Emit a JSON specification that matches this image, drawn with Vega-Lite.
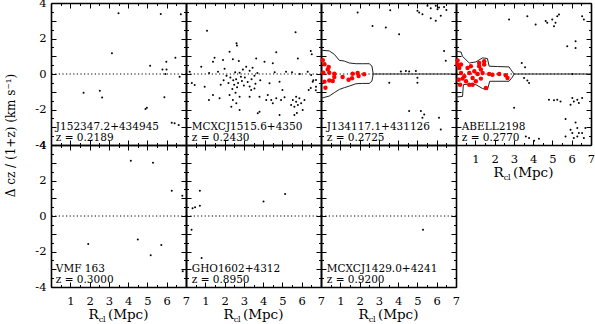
{
"$schema": "https://vega.github.io/schema/vega-lite/v6.json",
"background": "white",
"padding": {"left": 4, "top": -3, "right": 0, "bottom": 0},
"bounds": "flush",
"spacing": 0,
"columns": 4,
"datasets": {
"lab": [
{"p":1,"name":"J152347.2+434945","zl":"z = 0.2189"},
{"p":2,"name":"MCXCJ1515.6+4350","zl":"z = 0.2430"},
{"p":3,"name":"J134117.1+431126","zl":"z = 0.2725"},
{"p":4,"name":"ABELL2198","zl":"z = 0.2770"},
{"p":5,"name":"VMF 163","zl":"z = 0.3000"},
{"p":6,"name":"GHO1602+4312","zl":"z = 0.8950"},
{"p":7,"name":"MCXCJ1429.0+4241","zl":"z = 0.9200"}],
"pts": [
{"p":1,"r":3.5,"v":3.42},{"p":1,"r":5.69,"v":3.38},{"p":1,"r":6.73,"v":3.36},{"p":1,"r":3.16,"v":1.17},{"p":1,"r":5.14,"v":0.47},{"p":1,"r":6.45,"v":0.92},{"p":1,"r":5.98,"v":0.69},{"p":1,"r":5.78,"v":0.26},{"p":1,"r":5.99,"v":0.26},{"p":1,"r":5.93,"v":0.0},{"p":1,"r":6.67,"v":-0.15},{"p":1,"r":1.69,"v":-1.05},{"p":1,"r":2.53,"v":-0.94},{"p":1,"r":2.65,"v":-1.33},{"p":1,"r":5.88,"v":-1.31},{"p":1,"r":4.97,"v":-1.9},{"p":1,"r":4.9,"v":-1.97},{"p":1,"r":6.26,"v":-2.74},{"p":1,"r":6.41,"v":-2.78},{"p":1,"r":6.62,"v":-2.87},
{"p":2,"r":1.09,"v":2.44},{"p":2,"r":5.68,"v":2.35},{"p":2,"r":2.62,"v":1.73},{"p":2,"r":2.64,"v":1.6},{"p":2,"r":2.26,"v":1.26},{"p":2,"r":4.68,"v":1.22},{"p":2,"r":6.47,"v":1.3},{"p":2,"r":1.48,"v":0.92},{"p":2,"r":1.92,"v":0.79},{"p":2,"r":2.43,"v":0.83},{"p":2,"r":2.74,"v":0.73},{"p":2,"r":1.4,"v":0.69},{"p":2,"r":3.64,"v":0.88},{"p":2,"r":4.07,"v":0.69},{"p":2,"r":5.8,"v":0.88},{"p":2,"r":3.12,"v":0.41},{"p":2,"r":2.95,"v":0.26},{"p":2,"r":3.3,"v":0.19},{"p":2,"r":2.78,"v":0.07},{"p":2,"r":0.79,"v":0.41},{"p":2,"r":0.19,"v":0.13},{"p":2,"r":1.66,"v":0.13},
{"p":2,"r":2.3,"v":-0.2},{"p":2,"r":2.45,"v":-0.35},{"p":2,"r":2.6,"v":-0.3},{"p":2,"r":2.7,"v":-0.5},{"p":2,"r":2.5,"v":-0.6},{"p":2,"r":2.9,"v":-0.4},{"p":2,"r":3.05,"v":-0.2},{"p":2,"r":3.2,"v":-0.45},{"p":2,"r":3.4,"v":-0.3},{"p":2,"r":3.55,"v":-0.1},{"p":2,"r":3.7,"v":0.05},{"p":2,"r":2.2,"v":-0.5},{"p":2,"r":2.1,"v":-0.1},{"p":2,"r":1.95,"v":-0.35},{"p":2,"r":2.85,"v":-0.15},{"p":2,"r":3.0,"v":-0.65},{"p":2,"r":3.3,"v":-0.7},{"p":2,"r":2.4,"v":-0.85},{"p":2,"r":2.65,"v":-0.75},{"p":2,"r":3.6,"v":-0.55},{"p":2,"r":3.85,"v":-0.35},{"p":2,"r":2.0,"v":0.3},{"p":2,"r":2.55,"v":0.1},{"p":2,"r":3.45,"v":0.35},{"p":2,"r":1.8,"v":-0.6},
{"p":2,"r":4.33,"v":-0.52},{"p":2,"r":4.85,"v":-0.43},{"p":2,"r":5.19,"v":0.13},{"p":2,"r":5.5,"v":0.1},{"p":2,"r":5.9,"v":0.0},{"p":2,"r":6.31,"v":0.13},{"p":2,"r":6.74,"v":-0.34},{"p":2,"r":6.57,"v":-0.43},{"p":2,"r":6.36,"v":-0.9},{"p":2,"r":0.45,"v":-0.62},{"p":2,"r":0.97,"v":-0.72},{"p":2,"r":1.4,"v":-1.18},{"p":2,"r":1.74,"v":-1.37},{"p":2,"r":1.19,"v":-1.46},{"p":2,"r":2.26,"v":-1.18},{"p":2,"r":2.43,"v":-1.46},{"p":2,"r":2.35,"v":-1.84},{"p":2,"r":2.61,"v":-1.65},{"p":2,"r":2.78,"v":-1.28},{"p":2,"r":2.57,"v":-1.05},{"p":2,"r":3.3,"v":-1.28},{"p":2,"r":3.38,"v":-0.9},{"p":2,"r":3.55,"v":-0.81},{"p":2,"r":3.81,"v":-1.28},{"p":2,"r":4.16,"v":-1.46},{"p":2,"r":4.24,"v":-1.18},{"p":2,"r":4.42,"v":-1.46},{"p":2,"r":4.5,"v":-1.65},{"p":2,"r":4.68,"v":-1.37},{"p":2,"r":4.93,"v":-1.46},{"p":2,"r":5.11,"v":-1.31},{"p":2,"r":5.54,"v":-1.46},{"p":2,"r":5.71,"v":-1.56},{"p":2,"r":5.8,"v":-1.75},{"p":2,"r":5.62,"v":-1.84},{"p":2,"r":5.88,"v":-1.37},{"p":2,"r":5.97,"v":-1.65},{"p":2,"r":5.45,"v":-1.75},{"p":2,"r":5.71,"v":-1.28},{"p":2,"r":6.05,"v":-2.03},{"p":2,"r":6.14,"v":-1.46},{"p":2,"r":3.81,"v":-2.12},{"p":2,"r":4.85,"v":-2.31},{"p":2,"r":5.62,"v":-2.31},{"p":2,"r":5.75,"v":-2.2},{"p":2,"r":6.74,"v":-0.72},{"p":2,"r":6.49,"v":-0.06},{"p":2,"r":2.78,"v":-2.03},{"p":2,"r":3.72,"v":-2.21},{"p":2,"r":6.52,"v":1.11},{"p":2,"r":6.47,"v":-0.79},{"p":2,"r":6.73,"v":-0.92},{"p":2,"r":6.6,"v":-0.35},{"p":2,"r":4.5,"v":0.6},{"p":2,"r":0.3,"v":-0.5},{"p":2,"r":1.2,"v":0.05},{"p":2,"r":4.6,"v":0.1},{"p":2,"r":5.0,"v":-0.9},
{"p":3,"r":1.9,"v":3.46},{"p":3,"r":5.09,"v":3.47},{"p":3,"r":5.26,"v":3.37},{"p":3,"r":5.0,"v":3.56},{"p":3,"r":5.52,"v":3.84},{"p":3,"r":5.69,"v":3.71},{"p":3,"r":5.95,"v":3.84},{"p":3,"r":6.04,"v":3.65},{"p":3,"r":6.12,"v":3.75},{"p":3,"r":6.38,"v":3.78},{"p":3,"r":6.5,"v":3.6},{"p":3,"r":6.21,"v":3.28},{"p":3,"r":5.69,"v":3.14},{"p":3,"r":5.95,"v":3.0},{"p":3,"r":2.67,"v":2.71},{"p":3,"r":3.36,"v":2.62},{"p":3,"r":3.59,"v":3.59},{"p":3,"r":4.05,"v":2.24},{"p":3,"r":6.38,"v":1.3},{"p":3,"r":6.47,"v":0.74},{"p":3,"r":4.4,"v":0.17},{"p":3,"r":4.14,"v":0.14},{"p":3,"r":4.57,"v":0.14},{"p":3,"r":4.92,"v":0.17},{"p":3,"r":5.0,"v":-0.21},{"p":3,"r":5.0,"v":-0.49},{"p":3,"r":3.54,"v":-0.49},{"p":3,"r":4.57,"v":-2.09},{"p":3,"r":5.18,"v":-2.09},{"p":3,"r":5.35,"v":-2.28},{"p":3,"r":5.26,"v":-2.47},{"p":3,"r":6.12,"v":-2.47},{"p":3,"r":6.21,"v":-3.12},
{"p":4,"r":2.75,"v":3.07},{"p":4,"r":3.7,"v":3.26},{"p":4,"r":4.13,"v":2.79},{"p":4,"r":4.65,"v":2.98},{"p":4,"r":4.73,"v":2.89},{"p":4,"r":4.99,"v":3.07},{"p":4,"r":5.08,"v":2.69},{"p":4,"r":5.16,"v":2.89},{"p":4,"r":5.25,"v":3.26},{"p":4,"r":5.34,"v":3.35},{"p":4,"r":6.54,"v":3.26},{"p":4,"r":6.63,"v":3.07},{"p":4,"r":5.77,"v":1.56},{"p":4,"r":6.2,"v":1.47},{"p":4,"r":6.2,"v":1.85},{"p":4,"r":3.41,"v":0.62},{"p":4,"r":3.58,"v":0.38},{"p":4,"r":3.53,"v":-0.22},{"p":4,"r":3.7,"v":-0.37},{"p":4,"r":3.79,"v":-0.5},{"p":4,"r":6.03,"v":0.0},{"p":4,"r":4.82,"v":-1.45},{"p":4,"r":5.08,"v":-1.48},{"p":4,"r":5.25,"v":-1.45},{"p":4,"r":5.42,"v":-1.55},{"p":4,"r":6.03,"v":-1.35},{"p":4,"r":6.11,"v":-1.55},{"p":4,"r":6.29,"v":-1.45},{"p":4,"r":6.37,"v":-1.64},{"p":4,"r":5.94,"v":-1.73},{"p":4,"r":6.54,"v":-1.35},{"p":4,"r":3.01,"v":-1.9},{"p":4,"r":5.68,"v":-2.54},{"p":4,"r":6.2,"v":-2.73},{"p":4,"r":6.29,"v":-3.04},{"p":4,"r":6.37,"v":-3.33},{"p":4,"r":6.03,"v":-3.33},{"p":4,"r":5.94,"v":-3.14},{"p":4,"r":6.11,"v":-3.61},{"p":4,"r":6.29,"v":-3.52},{"p":4,"r":6.54,"v":-3.33},{"p":4,"r":6.71,"v":-3.04},{"p":4,"r":6.63,"v":-3.61},{"p":4,"r":5.68,"v":-3.52},{"p":4,"r":3.62,"v":-3.52},{"p":4,"r":3.79,"v":-3.61},{"p":4,"r":4.05,"v":-3.76},{"p":4,"r":4.3,"v":-3.65},
{"p":5,"r":4.14,"v":3.11},{"p":5,"r":5.29,"v":3.0},{"p":5,"r":6.26,"v":1.42},{"p":5,"r":6.81,"v":1.14},{"p":5,"r":1.93,"v":-1.58},{"p":5,"r":4.5,"v":-1.33},{"p":5,"r":5.72,"v":-1.63},{"p":5,"r":5.17,"v":-2.21},{"p":5,"r":6.83,"v":-3.11},
{"p":6,"r":0.72,"v":1.42},{"p":6,"r":5.14,"v":1.24},{"p":6,"r":4.02,"v":0.82},{"p":6,"r":0.34,"v":0.44},{"p":6,"r":0.47,"v":0.5},{"p":6,"r":0.72,"v":0.58},{"p":6,"r":0.29,"v":-0.78},{"p":6,"r":0.81,"v":-2.37},
{"p":7,"r":5.29,"v":-0.77}],
"mem": [
{"p":3,"r":0.09,"v":0.77},{"p":3,"r":0.18,"v":0.55},{"p":3,"r":0.12,"v":0.07},{"p":3,"r":0.35,"v":0.26},{"p":3,"r":0.43,"v":-0.36},{"p":3,"r":0.18,"v":-0.43},{"p":3,"r":0.23,"v":-0.77},{"p":3,"r":0.69,"v":0.02},{"p":3,"r":0.69,"v":-0.17},{"p":3,"r":0.61,"v":-0.4},{"p":3,"r":1.12,"v":-0.17},{"p":3,"r":1.64,"v":0.02},{"p":3,"r":1.9,"v":0.06},{"p":3,"r":1.95,"v":-0.11},{"p":3,"r":1.61,"v":-0.24},{"p":3,"r":1.43,"v":-0.32},{"p":3,"r":2.24,"v":-0.02},{"p":3,"r":0.43,"v":0.07},{"p":3,"r":0.4,"v":0.4},
{"p":4,"r":0.08,"v":0.76},{"p":4,"r":0.08,"v":0.53},{"p":4,"r":0.17,"v":0.34},{"p":4,"r":0.26,"v":0.06},{"p":4,"r":0.14,"v":-0.32},{"p":4,"r":0.21,"v":-0.6},{"p":4,"r":0.34,"v":-0.26},{"p":4,"r":0.43,"v":-0.13},{"p":4,"r":0.52,"v":-0.41},{"p":4,"r":0.69,"v":0.06},{"p":4,"r":0.6,"v":0.34},{"p":4,"r":0.77,"v":0.44},{"p":4,"r":0.86,"v":-0.22},{"p":4,"r":0.86,"v":-0.6},{"p":4,"r":0.95,"v":0.15},{"p":4,"r":1.03,"v":-0.41},{"p":4,"r":1.12,"v":0.0},{"p":4,"r":1.2,"v":0.44},{"p":4,"r":1.2,"v":0.62},{"p":4,"r":1.29,"v":0.25},{"p":4,"r":1.29,"v":-0.26},{"p":4,"r":1.38,"v":0.06},{"p":4,"r":1.46,"v":0.53},{"p":4,"r":1.46,"v":0.72},{"p":4,"r":1.55,"v":-0.79},{"p":4,"r":1.72,"v":0.0},{"p":4,"r":1.89,"v":-0.04},{"p":4,"r":2.24,"v":0.0},{"p":4,"r":2.58,"v":-0.07},{"p":4,"r":2.67,"v":-0.22},{"p":4,"r":0.26,"v":0.53},{"p":4,"r":0.69,"v":-0.6}],
"caus": [
{"p":3,"s":"u","r":0,"v":1.34},{"p":3,"s":"u","r":0.43,"v":1.3},{"p":3,"s":"u","r":0.69,"v":1.11},{"p":3,"s":"u","r":0.95,"v":0.77},{"p":3,"s":"u","r":1.21,"v":0.73},{"p":3,"s":"u","r":1.47,"v":0.62},{"p":3,"s":"u","r":1.81,"v":0.58},{"p":3,"s":"u","r":2.16,"v":0.58},{"p":3,"s":"u","r":2.5,"v":0.58},{"p":3,"s":"u","r":2.64,"v":0.45},{"p":3,"s":"u","r":2.71,"v":0},{"p":3,"s":"u","r":7,"v":0},
{"p":3,"s":"l","r":0,"v":-1.37},{"p":3,"s":"l","r":0.43,"v":-1.24},{"p":3,"s":"l","r":0.69,"v":-1.05},{"p":3,"s":"l","r":0.95,"v":-0.87},{"p":3,"s":"l","r":1.21,"v":-0.77},{"p":3,"s":"l","r":1.47,"v":-0.68},{"p":3,"s":"l","r":1.81,"v":-0.55},{"p":3,"s":"l","r":2.16,"v":-0.53},{"p":3,"s":"l","r":2.5,"v":-0.53},{"p":3,"s":"l","r":2.64,"v":-0.4},{"p":3,"s":"l","r":2.71,"v":0},
{"p":4,"s":"u","r":0,"v":1.28},{"p":4,"s":"u","r":0.26,"v":1.24},{"p":4,"s":"u","r":0.34,"v":0.99},{"p":4,"s":"u","r":0.69,"v":0.62},{"p":4,"s":"u","r":1.03,"v":0.68},{"p":4,"s":"u","r":1.38,"v":0.91},{"p":4,"s":"u","r":1.63,"v":0.87},{"p":4,"s":"u","r":1.72,"v":0.44},{"p":4,"s":"u","r":2.15,"v":0.42},{"p":4,"s":"u","r":2.75,"v":0.4},{"p":4,"s":"u","r":2.84,"v":0.25},{"p":4,"s":"u","r":3.01,"v":0},{"p":4,"s":"u","r":7,"v":0},
{"p":4,"s":"l","r":0,"v":-1.3},{"p":4,"s":"l","r":0.34,"v":-1.26},{"p":4,"s":"l","r":0.38,"v":-0.6},{"p":4,"s":"l","r":0.69,"v":-0.56},{"p":4,"s":"l","r":1.03,"v":-0.6},{"p":4,"s":"l","r":1.38,"v":-0.82},{"p":4,"s":"l","r":1.63,"v":-0.88},{"p":4,"s":"l","r":1.75,"v":-0.41},{"p":4,"s":"l","r":2.75,"v":-0.41},{"p":4,"s":"l","r":2.92,"v":-0.18},{"p":4,"s":"l","r":3.01,"v":0}]
},
"concat": [
{"width":135,"height":142,"resolve":{"axis":{"x":"independent","y":"independent"}},"layer":[
 {"data":{"values":[{}]},"mark":{"type":"rule","strokeDash":[1.2,2.4],"color":"black","strokeWidth":1},"encoding":{"y":{"datum":0,"type":"quantitative","axis":null}}},
 {"data":{"name":"pts"},"transform":[{"filter":"datum.p == 1"}],"mark":{"type":"circle","size":4,"color":"black","opacity":1},
  "encoding":{"x":{"field":"r","type":"quantitative","scale":{"domain":[0,7],"nice":false,"zero":false},"axis":{"orient":"bottom","labels":false,"title":null}},
   "y":{"field":"v","type":"quantitative","scale":{"domain":[-4,4],"nice":false,"zero":false},"axis":{"orient":"left","labels":true,"title":"Δ cz / (1+z) (km s⁻¹)","titleX":-41,"titleY":132,"titleAngle":-90,"titleAlign":"center","titleBaseline":"middle","titleFontSize":12}}}},
 {"data":{"name":"lab"},"transform":[{"filter":"datum.p == 1"}],"mark":{"type":"text","align":"left","baseline":"alphabetic","fontSize":10.5},
  "encoding":{"x":{"datum":0.25,"type":"quantitative","axis":{"orient":"top","labels":false,"title":null}},"y":{"datum":-3.13,"type":"quantitative","axis":{"orient":"right","labels":false,"title":null}},"text":{"field":"name"}}},
 {"data":{"name":"lab"},"transform":[{"filter":"datum.p == 1"}],"mark":{"type":"text","align":"left","baseline":"alphabetic","fontSize":10.5},
  "encoding":{"x":{"datum":0.25,"type":"quantitative","axis":null},"y":{"datum":-3.75,"type":"quantitative","axis":null},"text":{"field":"zl"}}}
]},
{"width":135,"height":142,"resolve":{"axis":{"x":"independent","y":"independent"}},"layer":[
 {"data":{"values":[{}]},"mark":{"type":"rule","strokeDash":[1.2,2.4],"color":"black","strokeWidth":1},"encoding":{"y":{"datum":0,"type":"quantitative","axis":null}}},
 {"data":{"name":"pts"},"transform":[{"filter":"datum.p == 2"}],"mark":{"type":"circle","size":4,"color":"black","opacity":1},
  "encoding":{"x":{"field":"r","type":"quantitative","scale":{"domain":[0,7],"nice":false,"zero":false},"axis":{"orient":"bottom","labels":false,"title":null}},
   "y":{"field":"v","type":"quantitative","scale":{"domain":[-4,4],"nice":false,"zero":false},"axis":{"orient":"left","labels":false,"title":null}}}},
 {"data":{"name":"lab"},"transform":[{"filter":"datum.p == 2"}],"mark":{"type":"text","align":"left","baseline":"alphabetic","fontSize":10.5},
  "encoding":{"x":{"datum":0.3,"type":"quantitative","axis":{"orient":"top","labels":false,"title":null}},"y":{"datum":-3.13,"type":"quantitative","axis":{"orient":"right","labels":false,"title":null}},"text":{"field":"name"}}},
 {"data":{"name":"lab"},"transform":[{"filter":"datum.p == 2"}],"mark":{"type":"text","align":"left","baseline":"alphabetic","fontSize":10.5},
  "encoding":{"x":{"datum":0.3,"type":"quantitative","axis":null},"y":{"datum":-3.75,"type":"quantitative","axis":null},"text":{"field":"zl"}}}
]},
{"width":135,"height":142,"resolve":{"axis":{"x":"independent","y":"independent"}},"layer":[
 {"data":{"values":[{}]},"mark":{"type":"rule","strokeDash":[1.2,2.4],"color":"black","strokeWidth":1},"encoding":{"y":{"datum":0,"type":"quantitative","axis":null}}},
 {"data":{"name":"caus"},"transform":[{"filter":"datum.p == 3"}],"mark":{"type":"line","color":"#222222","strokeWidth":1},"encoding":{"x":{"field":"r","type":"quantitative","axis":null},"y":{"field":"v","type":"quantitative","axis":null},"detail":{"field":"s"}}},
 {"data":{"name":"pts"},"transform":[{"filter":"datum.p == 3"}],"mark":{"type":"circle","size":4,"color":"black","opacity":1},
  "encoding":{"x":{"field":"r","type":"quantitative","scale":{"domain":[0,7],"nice":false,"zero":false},"axis":{"orient":"bottom","labels":false,"title":null}},
   "y":{"field":"v","type":"quantitative","scale":{"domain":[-4,4],"nice":false,"zero":false},"axis":{"orient":"left","labels":false,"title":null}}}},
 {"data":{"name":"mem"},"transform":[{"filter":"datum.p == 3"}],"mark":{"type":"circle","size":20,"color":"#ff0000","opacity":1},"encoding":{"x":{"field":"r","type":"quantitative","axis":null},"y":{"field":"v","type":"quantitative","axis":null}}},
 {"data":{"name":"lab"},"transform":[{"filter":"datum.p == 3"}],"mark":{"type":"text","align":"left","baseline":"alphabetic","fontSize":10.5},
  "encoding":{"x":{"datum":0.3,"type":"quantitative","axis":{"orient":"top","labels":false,"title":null}},"y":{"datum":-3.13,"type":"quantitative","axis":{"orient":"right","labels":false,"title":null}},"text":{"field":"name"}}},
 {"data":{"name":"lab"},"transform":[{"filter":"datum.p == 3"}],"mark":{"type":"text","align":"left","baseline":"alphabetic","fontSize":10.5},
  "encoding":{"x":{"datum":0.3,"type":"quantitative","axis":null},"y":{"datum":-3.75,"type":"quantitative","axis":null},"text":{"field":"zl"}}}
]},
{"width":135,"height":142,"resolve":{"axis":{"x":"independent","y":"independent"}},"layer":[
 {"data":{"values":[{}]},"mark":{"type":"rule","strokeDash":[1.2,2.4],"color":"black","strokeWidth":1},"encoding":{"y":{"datum":0,"type":"quantitative","axis":null}}},
 {"data":{"name":"caus"},"transform":[{"filter":"datum.p == 4"}],"mark":{"type":"line","color":"#222222","strokeWidth":1},"encoding":{"x":{"field":"r","type":"quantitative","axis":null},"y":{"field":"v","type":"quantitative","axis":null},"detail":{"field":"s"}}},
 {"data":{"name":"pts"},"transform":[{"filter":"datum.p == 4"}],"mark":{"type":"circle","size":4,"color":"black","opacity":1},
  "encoding":{"x":{"field":"r","type":"quantitative","scale":{"domain":[0,7],"nice":false,"zero":false},"axis":{"orient":"bottom","labels":true,"title":null}},
   "y":{"field":"v","type":"quantitative","scale":{"domain":[-4,4],"nice":false,"zero":false},"axis":{"orient":"left","labels":false,"title":null}}}},
 {"data":{"name":"mem"},"transform":[{"filter":"datum.p == 4"}],"mark":{"type":"circle","size":20,"color":"#ff0000","opacity":1},"encoding":{"x":{"field":"r","type":"quantitative","axis":null},"y":{"field":"v","type":"quantitative","axis":null}}},
 {"data":{"name":"lab"},"transform":[{"filter":"datum.p == 4"}],"mark":{"type":"text","align":"left","baseline":"alphabetic","fontSize":10.5},
  "encoding":{"x":{"datum":0.3,"type":"quantitative","axis":{"orient":"top","labels":false,"title":null}},"y":{"datum":-3.13,"type":"quantitative","axis":{"orient":"right","labels":false,"title":null}},"text":{"field":"name"}}},
 {"data":{"name":"lab"},"transform":[{"filter":"datum.p == 4"}],"mark":{"type":"text","align":"left","baseline":"alphabetic","fontSize":10.5},
  "encoding":{"x":{"datum":0.3,"type":"quantitative","axis":null},"y":{"datum":-3.75,"type":"quantitative","axis":null},"text":{"field":"zl"}}},
 {"data":{"values":[{}]},"mark":{"type":"text","text":"R","align":"left","baseline":"alphabetic","fontSize":13.5},"encoding":{"x":{"datum":1.95,"type":"quantitative","axis":null},"y":{"datum":-5.8,"type":"quantitative","axis":null}}},
 {"data":{"values":[{}]},"mark":{"type":"text","text":"cl","align":"left","baseline":"alphabetic","fontSize":8},"encoding":{"x":{"datum":2.47,"type":"quantitative","axis":null},"y":{"datum":-5.95,"type":"quantitative","axis":null}}},
 {"data":{"values":[{}]},"mark":{"type":"text","text":"(Mpc)","align":"left","baseline":"alphabetic","fontSize":13.5},"encoding":{"x":{"datum":2.95,"type":"quantitative","axis":null},"y":{"datum":-5.8,"type":"quantitative","axis":null}}}
]},
{"width":135,"height":142,"resolve":{"axis":{"x":"independent","y":"independent"}},"layer":[
 {"data":{"values":[{}]},"mark":{"type":"rule","strokeDash":[1.2,2.4],"color":"black","strokeWidth":1},"encoding":{"y":{"datum":0,"type":"quantitative","axis":null}}},
 {"data":{"name":"pts"},"transform":[{"filter":"datum.p == 5"}],"mark":{"type":"circle","size":4,"color":"black","opacity":1},
  "encoding":{"x":{"field":"r","type":"quantitative","scale":{"domain":[0,7],"nice":false,"zero":false},"axis":{"orient":"bottom","labels":true,"title":null}},
   "y":{"field":"v","type":"quantitative","scale":{"domain":[-4,4],"nice":false,"zero":false},"axis":{"orient":"left","labels":true,"title":null}}}},
 {"data":{"name":"lab"},"transform":[{"filter":"datum.p == 5"}],"mark":{"type":"text","align":"left","baseline":"alphabetic","fontSize":10.5},
  "encoding":{"x":{"datum":0.25,"type":"quantitative","axis":{"orient":"top","labels":false,"title":null}},"y":{"datum":-3.13,"type":"quantitative","axis":{"orient":"right","labels":false,"title":null}},"text":{"field":"name"}}},
 {"data":{"name":"lab"},"transform":[{"filter":"datum.p == 5"}],"mark":{"type":"text","align":"left","baseline":"alphabetic","fontSize":10.5},
  "encoding":{"x":{"datum":0.25,"type":"quantitative","axis":null},"y":{"datum":-3.75,"type":"quantitative","axis":null},"text":{"field":"zl"}}},
 {"data":{"values":[{}]},"mark":{"type":"text","text":"R","align":"left","baseline":"alphabetic","fontSize":13.5},"encoding":{"x":{"datum":1.95,"type":"quantitative","axis":null},"y":{"datum":-5.8,"type":"quantitative","axis":null}}},
 {"data":{"values":[{}]},"mark":{"type":"text","text":"cl","align":"left","baseline":"alphabetic","fontSize":8},"encoding":{"x":{"datum":2.47,"type":"quantitative","axis":null},"y":{"datum":-5.95,"type":"quantitative","axis":null}}},
 {"data":{"values":[{}]},"mark":{"type":"text","text":"(Mpc)","align":"left","baseline":"alphabetic","fontSize":13.5},"encoding":{"x":{"datum":2.95,"type":"quantitative","axis":null},"y":{"datum":-5.8,"type":"quantitative","axis":null}}}
]},
{"width":135,"height":142,"resolve":{"axis":{"x":"independent","y":"independent"}},"layer":[
 {"data":{"values":[{}]},"mark":{"type":"rule","strokeDash":[1.2,2.4],"color":"black","strokeWidth":1},"encoding":{"y":{"datum":0,"type":"quantitative","axis":null}}},
 {"data":{"name":"pts"},"transform":[{"filter":"datum.p == 6"}],"mark":{"type":"circle","size":4,"color":"black","opacity":1},
  "encoding":{"x":{"field":"r","type":"quantitative","scale":{"domain":[0,7],"nice":false,"zero":false},"axis":{"orient":"bottom","labels":true,"title":null}},
   "y":{"field":"v","type":"quantitative","scale":{"domain":[-4,4],"nice":false,"zero":false},"axis":{"orient":"left","labels":false,"title":null}}}},
 {"data":{"name":"lab"},"transform":[{"filter":"datum.p == 6"}],"mark":{"type":"text","align":"left","baseline":"alphabetic","fontSize":10.5},
  "encoding":{"x":{"datum":0.3,"type":"quantitative","axis":{"orient":"top","labels":false,"title":null}},"y":{"datum":-3.13,"type":"quantitative","axis":{"orient":"right","labels":false,"title":null}},"text":{"field":"name"}}},
 {"data":{"name":"lab"},"transform":[{"filter":"datum.p == 6"}],"mark":{"type":"text","align":"left","baseline":"alphabetic","fontSize":10.5},
  "encoding":{"x":{"datum":0.3,"type":"quantitative","axis":null},"y":{"datum":-3.75,"type":"quantitative","axis":null},"text":{"field":"zl"}}},
 {"data":{"values":[{}]},"mark":{"type":"text","text":"R","align":"left","baseline":"alphabetic","fontSize":13.5},"encoding":{"x":{"datum":1.95,"type":"quantitative","axis":null},"y":{"datum":-5.8,"type":"quantitative","axis":null}}},
 {"data":{"values":[{}]},"mark":{"type":"text","text":"cl","align":"left","baseline":"alphabetic","fontSize":8},"encoding":{"x":{"datum":2.47,"type":"quantitative","axis":null},"y":{"datum":-5.95,"type":"quantitative","axis":null}}},
 {"data":{"values":[{}]},"mark":{"type":"text","text":"(Mpc)","align":"left","baseline":"alphabetic","fontSize":13.5},"encoding":{"x":{"datum":2.95,"type":"quantitative","axis":null},"y":{"datum":-5.8,"type":"quantitative","axis":null}}}
]},
{"width":135,"height":142,"resolve":{"axis":{"x":"independent","y":"independent"}},"layer":[
 {"data":{"values":[{}]},"mark":{"type":"rule","strokeDash":[1.2,2.4],"color":"black","strokeWidth":1},"encoding":{"y":{"datum":0,"type":"quantitative","axis":null}}},
 {"data":{"name":"pts"},"transform":[{"filter":"datum.p == 7"}],"mark":{"type":"circle","size":4,"color":"black","opacity":1},
  "encoding":{"x":{"field":"r","type":"quantitative","scale":{"domain":[0,7],"nice":false,"zero":false},"axis":{"orient":"bottom","labels":true,"title":null}},
   "y":{"field":"v","type":"quantitative","scale":{"domain":[-4,4],"nice":false,"zero":false},"axis":{"orient":"left","labels":false,"title":null}}}},
 {"data":{"name":"lab"},"transform":[{"filter":"datum.p == 7"}],"mark":{"type":"text","align":"left","baseline":"alphabetic","fontSize":10.5},
  "encoding":{"x":{"datum":0.3,"type":"quantitative","axis":{"orient":"top","labels":false,"title":null}},"y":{"datum":-3.13,"type":"quantitative","axis":{"orient":"right","labels":false,"title":null}},"text":{"field":"name"}}},
 {"data":{"name":"lab"},"transform":[{"filter":"datum.p == 7"}],"mark":{"type":"text","align":"left","baseline":"alphabetic","fontSize":10.5},
  "encoding":{"x":{"datum":0.3,"type":"quantitative","axis":null},"y":{"datum":-3.75,"type":"quantitative","axis":null},"text":{"field":"zl"}}},
 {"data":{"values":[{}]},"mark":{"type":"text","text":"R","align":"left","baseline":"alphabetic","fontSize":13.5},"encoding":{"x":{"datum":1.95,"type":"quantitative","axis":null},"y":{"datum":-5.8,"type":"quantitative","axis":null}}},
 {"data":{"values":[{}]},"mark":{"type":"text","text":"cl","align":"left","baseline":"alphabetic","fontSize":8},"encoding":{"x":{"datum":2.47,"type":"quantitative","axis":null},"y":{"datum":-5.95,"type":"quantitative","axis":null}}},
 {"data":{"values":[{}]},"mark":{"type":"text","text":"(Mpc)","align":"left","baseline":"alphabetic","fontSize":13.5},"encoding":{"x":{"datum":2.95,"type":"quantitative","axis":null},"y":{"datum":-5.8,"type":"quantitative","axis":null}}}
]}
],
"config": {
 "view": {"stroke": null},
 "font": "DejaVu Serif",
 "text": {"font": "DejaVu Serif", "color": "black"},
 "axis": {"grid": false, "domainColor": "black", "domainWidth": 1.6, "tickColor": "black", "tickWidth": 1,
  "tickSize": {"condition": {"test": "datum.value % 1 === 0", "value": -5}, "value": -2.5},
  "labelFont": "DejaVu Serif", "labelFontSize": 11.5, "labelColor": "black", "labelOverlap": false, "labelFlush": false, "labelBound": false,
  "titleFont": "DejaVu Serif", "titleFontWeight": "normal", "titleColor": "black"},
 "axisX": {"tickCount": 14, "labelExpr": "datum.value >= 1 && datum.value % 1 === 0 ? '' + datum.value : ''", "labelPadding": 13},
 "axisY": {"tickCount": 16, "labelExpr": "datum.value % 2 === 0 ? (datum.value < 0 ? '-' + (-datum.value) : '' + datum.value) : ''", "labelPadding": 10}
}
}
